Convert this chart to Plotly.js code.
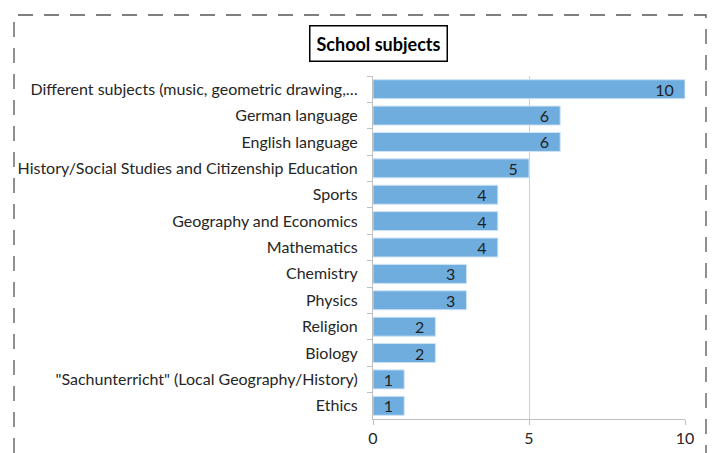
<!DOCTYPE html>
<html>
<head>
<meta charset="utf-8">
<script src="https://cdn.plot.ly/plotly-3.0.1.min.js"></script>
<style>
html,body{margin:0;padding:0;background:#fff;}
#chart{width:712px;height:453px;}
</style>
</head>
<body>
<div id="chart"></div>
<script>
const categories = [
  "Different subjects (music, geometric drawing,…",
  "German language",
  "English language",
  "History/Social Studies and Citizenship Education",
  "Sports",
  "Geography and Economics",
  "Mathematics",
  "Chemistry",
  "Physics",
  "Religion",
  "Biology",
  "\"Sachunterricht\" (Local Geography/History)",
  "Ethics"
];
const counts = [10, 6, 6, 5, 4, 4, 4, 3, 3, 2, 2, 1, 1];
const xTicks = [0, 5, 10];
const chartTitle = "School subjects";

const FONT = "Lato, 'Open Sans', sans-serif";

const trace = {
  type: "bar",
  orientation: "h",
  x: counts,
  y: categories,
  text: counts.map(v => String(v) + "\u00a0\u00a0"),
  textposition: "inside",
  insidetextanchor: "end",
  textangle: 0,
  constraintext: "none",
  insidetextfont: {family: FONT, size: 16, color: "#1f1f1f"},
  marker: {color: "#6FADDF", line: {color: "#cfe3f5", width: 1}},
  width: 0.72,
  hoverinfo: "none"
};

const layout = {
  width: 712,
  height: 453,
  margin: {l: 373, r: 27, t: 76, b: 34},
  paper_bgcolor: "#ffffff",
  plot_bgcolor: "#ffffff",
  showlegend: false,
  font: {family: FONT, size: 16, color: "#262626"},
  xaxis: {
    range: [0, 10],
    tickvals: xTicks,
    ticktext: xTicks.map(String),
    showgrid: true,
    gridcolor: "#d0d0d0",
    gridwidth: 1,
    zeroline: false,
    showline: true,
    linecolor: "#bfbfbf",
    linewidth: 1,
    ticks: "outside",
    ticklen: 5,
    tickcolor: "#bfbfbf",
    tickfont: {family: FONT, size: 16, color: "#262626"},
    fixedrange: true
  },
  yaxis: {
    type: "category",
    categoryorder: "array",
    categoryarray: categories,
    autorange: "reversed",
    showgrid: false,
    zeroline: false,
    showline: true,
    linecolor: "#bfbfbf",
    linewidth: 1,
    ticks: "outside",
    tickson: "boundaries",
    ticklen: 5,
    tickcolor: "#bfbfbf",
    ticklabelstandoff: 11,
    tickfont: {family: FONT, size: 16, color: "#262626"},
    fixedrange: true
  },
  annotations: [{
    xref: "paper", yref: "paper",
    x: (378 - 373) / 312, y: 1 + (76 - 43) / 343,
    xanchor: "center", yanchor: "middle",
    text: "<b>" + chartTitle + "</b>",
    showarrow: false,
    font: {family: FONT, size: 18, color: "#000000"},
    bordercolor: "#000000",
    borderwidth: 1.5,
    borderpad: 6,
    bgcolor: "#ffffff"
  }],
  shapes: [{
    type: "rect",
    xref: "paper", yref: "paper",
    x0: (14 - 373) / 312, x1: (706 - 373) / 312,
    y0: -(470 - 419) / 343, y1: 1 + (76 - 15) / 343,
    line: {color: "#555555", width: 1.3, dash: "15px,11px"},
    fillcolor: "rgba(0,0,0,0)",
    layer: "below"
  }]
};

Plotly.newPlot("chart", [trace], layout, {displayModeBar: false, staticPlot: true});
</script>
</body>
</html>
